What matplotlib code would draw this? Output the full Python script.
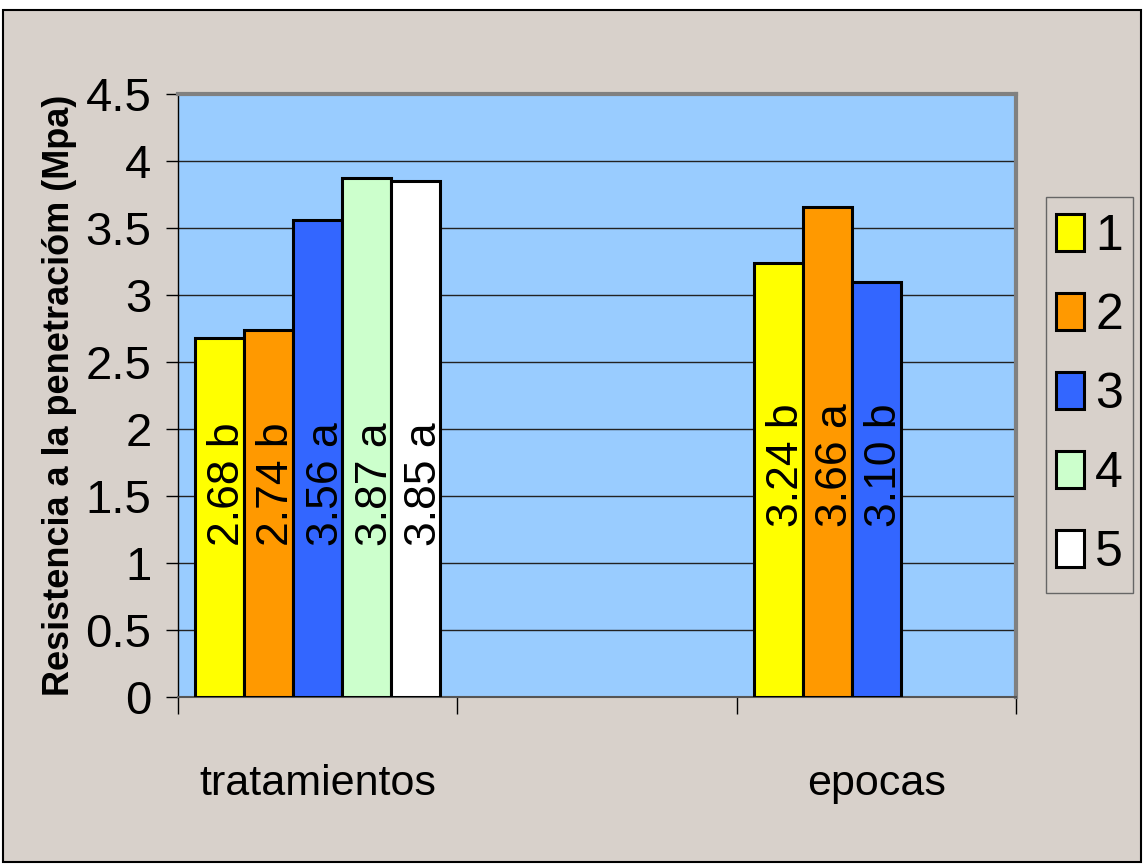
import numpy as np
import matplotlib.pyplot as plt
from matplotlib.patches import Rectangle

plt.rcParams['font.family'] = ['Liberation Sans', 'DejaVu Sans']

# chart data
categories = ['tratamientos', '', 'epocas']
series_names = ['1', '2', '3', '4', '5']
tratamientos = [2.68, 2.74, 3.56, 3.87, 3.85]
tratamientos_letters = ['b', 'b', 'a', 'a', 'a']
epocas = [3.24, 3.66, 3.10]
epocas_letters = ['b', 'a', 'b']
ytick_labels = ['0', '0.5', '1', '1.5', '2', '2.5', '3', '3.5', '4', '4.5']

colors = ['#FFFF00', '#FF9900', '#3366FF', '#CCFFCC', '#FFFFFF']
chart_bg = '#D8D1CB'
plot_bg = '#99CCFF'

W, H = 1144, 867
fig = plt.figure(figsize=(W / 100, H / 100), dpi=100, facecolor='white')
fig.patches.append(Rectangle((3 / W, 5 / H), 1138 / W, 852 / H, transform=fig.transFigure,
                             facecolor=chart_bg, edgecolor='black', lw=1.5, zorder=-1))

ax = fig.add_axes([178 / W, 1 - 697 / H, (1016 - 178) / W, (697 - 94) / H])
ax.set_facecolor(plot_bg)

x = np.arange(len(categories))
w = 0.1756
for i, name in enumerate(series_names):
    ep = epocas[i] if i < len(epocas) else np.nan
    vals = [tratamientos[i], np.nan, ep]
    ax.bar(x + (i - 2) * w, vals, w, color=colors[i], edgecolor='black', lw=2.2,
           label=name, zorder=3)

# rotated value labels inside the bars
for i, (v, letter) in enumerate(zip(tratamientos, tratamientos_letters)):
    ax.text(x[0] + (i - 2) * w + 0.03, 1.13, f"{v:.2f} {letter}", rotation=90,
            ha='center', va='bottom', fontsize=32, zorder=4)
for i, (v, letter) in enumerate(zip(epocas, epocas_letters)):
    ax.text(x[2] + (i - 2) * w + 0.03, 1.27, f"{v:.2f} {letter}", rotation=90,
            ha='center', va='bottom', fontsize=32, zorder=4)

ax.set_xlim(-0.5, 2.5)
ax.set_ylim(0, 4.5)
ax.set_yticks(np.arange(0, 4.51, 0.5))
ax.set_yticklabels(ytick_labels)
ax.set_xticks([-0.5, 0.5, 1.5, 2.5])
ax.set_xticklabels([])
ax.tick_params(axis='y', length=9, width=1, pad=10, labelsize=34, colors='black')
ax.tick_params(axis='x', length=12, width=1, colors='black')

for xi, cat in zip(x, categories):
    ax.text(xi, -0.1625, cat, transform=ax.get_xaxis_transform(), ha='center',
            va='baseline', fontsize=31)

ax.yaxis.grid(True, color='#222222', lw=1)
ax.set_axisbelow(True)

ax.spines['top'].set_color('#808080')
ax.spines['top'].set_linewidth(3)
ax.spines['right'].set_color('#808080')
ax.spines['right'].set_linewidth(3)
ax.spines['left'].set_color('black')
ax.spines['left'].set_linewidth(1)
ax.spines['bottom'].set_color('#555555')
ax.spines['bottom'].set_linewidth(1.5)

ax.text((60 - 178) / 838, 0.5, 'Resistencia a la penetracióm (Mpa)', transform=ax.transAxes,
        rotation=90, ha='center', va='center', fontsize=26, fontweight='bold')

# legend box, entries centred inside it
lx0, ly0, lx1, ly1 = 1046, 197, 1133, 593
fig.patches.append(Rectangle((lx0 / W, 1 - ly1 / H), (lx1 - lx0) / W, (ly1 - ly0) / H,
                             transform=fig.transFigure, facecolor=chart_bg,
                             edgecolor='#666666', lw=1, zorder=-0.5))
leg = ax.legend(loc='center', bbox_to_anchor=((lx0 + lx1) / 2 / W, 1 - (ly0 + ly1) / 2 / H),
                bbox_transform=fig.transFigure, borderaxespad=0, borderpad=0, fontsize=36,
                handlelength=0.56, handleheight=0.76, handletextpad=0.22,
                labelspacing=0.66, frameon=False)

fig.savefig('out.png', dpi=100, facecolor=fig.get_facecolor())
